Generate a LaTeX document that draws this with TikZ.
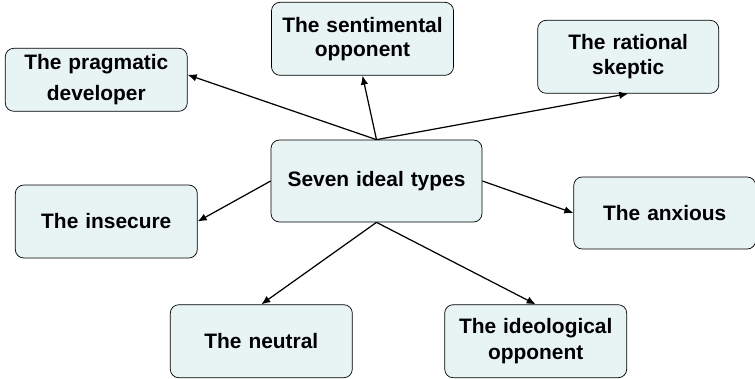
\documentclass[tikz,border=0pt]{standalone}
\usepackage{fontspec}
\setmainfont{Liberation Sans}
\usepackage{xcolor}
\usepackage{tikz}
\usetikzlibrary{positioning, arrows.meta}
\definecolor{typefill}{RGB}{232,244,244}

\begin{document}
\begin{tikzpicture}[
    every node/.style={
        draw,
        rounded corners=1.7mm,
        align=center,
        font=\fontsize{11.9}{13.5}\selectfont\bfseries,
        fill=typefill,
        inner sep=0pt,
        text width=3.64cm,
        minimum height=1.46cm
    },
    arrow/.style={-{Latex[length=1.8mm,width=1.5mm]}, line width=0.7pt}
]

\useasboundingbox (0,0) rectangle (15.1,-7.56);

% Central node
\node (types) [text width=4.22cm, minimum height=1.64cm] at (7.53,-3.62) {Seven ideal types};

% Types around it
\node (pragmatic) [above left=0.56cm and 1.66cm of types, minimum height=1.26cm] {The pragmatic\\[4pt]
developer};

\node (sentimental) [above=1.28cm of types, xshift=-0.28cm] {The sentimental\\
opponent};

\node (rational) [above right=0.92cm and 1.1cm of types, text width=3.62cm] {The rational\\[1pt]
skeptic};

\node (insecure) [left=1.46cm of types, yshift=-0.81cm] {The insecure};

\node (anxious) [right=1.82cm of types, yshift=-0.64cm, minimum height=1.44cm] {The anxious};

\node (neutral) [below left=1.64cm and -1.64cm of types] {The neutral};

\node (ideological) [below right=1.64cm and -0.76cm of types] {The ideological\\[1pt]
opponent};

% Arrows from the centre
\draw[arrow] (types.north) -- ([yshift=0.1cm]pragmatic.east);
\draw[arrow] (types.north) -- (sentimental.south);
\draw[arrow] (types.north) -- (rational.south);
\draw[arrow] (types.west) -- (insecure.east);
\draw[arrow] (types.east) -- (anxious.west);
\draw[arrow] (types.south) -- (neutral.north);
\draw[arrow] (types.south) -- (ideological.north);

\end{tikzpicture}
\end{document}
